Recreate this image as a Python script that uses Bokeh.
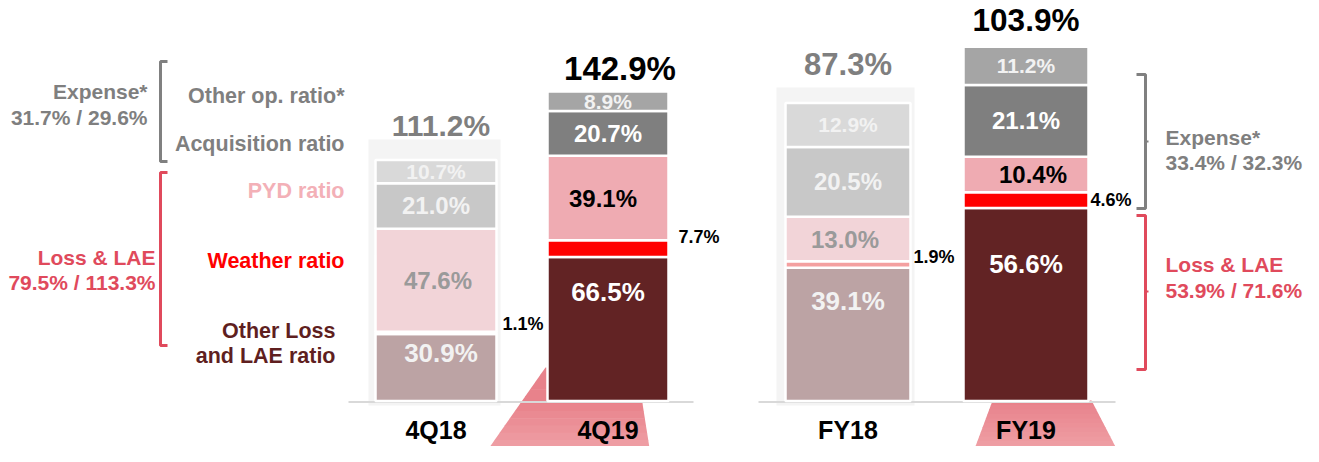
from bokeh.plotting import figure
from bokeh.models import Range1d, ColumnDataSource
from bokeh.core.properties import value
from bokeh.embed import file_html
from bokeh.resources import INLINE

# ---------------- data ----------------
periods = ["4Q18", "4Q19", "FY18", "FY19"]
other_loss = [30.9, 66.5, 39.1, 56.6]
weather = [1.1, 7.7, 1.9, 4.6]
pyd = [47.6, 39.1, 13.0, 10.4]
acquisition = [21.0, 20.7, 20.5, 21.1]
other_op = [10.7, 8.9, 12.9, 11.2]
totals = ["111.2%", "142.9%", "87.3%", "103.9%"]
expense_q = "31.7% / 29.6%"
loss_q = "79.5% / 113.3%"
expense_fy = "33.4% / 32.3%"
loss_fy = "53.9% / 71.6%"

# ---------------- layout / style ----------------
W, H = 1303, 446
OX, OY = 7, 8            # page offset of the drawing
FONT = value("Liberation Sans")
BASE_PX = 408.5          # layout y of the zero line
Q_SCALE = 2.165          # px per % for quarters
FY_SCALE = 3.41          # px per % for full years

bar_x = [442.5, 614.5, 854.5, 1032.5]
bar_w = [121, 121, 125, 125]
rng = [None, None, "fy", "fy"]

faded = ["#bca3a4", "#f4a0a0", "#f2d4d8", "#c8c8c8", "#d9d9d9"]
strong = ["#622324", "#ff0000", "#efabb2", "#7f7f7f", "#a5a5a5"]
palettes = [faded, strong, faded, strong]
faded_txt = ["#f2f2f2", None, "#9a9a9a", "#f2f2f2", "#f2f2f2"]
strong_txt = ["#ffffff", None, "#000000", "#ffffff", "#f2f2f2"]
txt_palettes = [faded_txt, strong_txt, faded_txt, strong_txt]
seg_font = ["26px", None, "24px", "24px", "21px"]

bottom_label_shift = [-15, -37, -33, -40]
bottom_label_dx = [5, 0, 0, 0]
pyd_label_dx = [2, -5, -3, 7]
side_dx = [6, 10, 3, 2]
side_dy = [-9, -12, -7, 0]
total_dx = [5, 12, 0, 0]
total_dy = [-35, -23, -38, -27]
total_font = ["30px", "33px", "31px", "31.5px"]

GRAY = "#7f7f7f"
RED = "#e04a5c"

p = figure(width=W, height=H, output_backend="svg", toolbar_location=None,
           x_range=Range1d(OX, OX + W),
           y_range=Range1d(-(OY + H - BASE_PX) / Q_SCALE, (BASE_PX - OY) / Q_SCALE),
           x_axis_location=None, y_axis_location=None, min_border=0)
p.extra_y_ranges = {
    "fy": Range1d(-(OY + H - BASE_PX) / FY_SCALE, (BASE_PX - OY) / FY_SCALE),
    "px": Range1d(OY + H, OY),
}
p.xgrid.visible = False
p.ygrid.visible = False
p.outline_line_color = None
p.background_fill_color = "white"
p.border_fill_color = "white"

# background panels behind the prior-year bars
p.quad(left=[375, 783], right=[507, 921], top=[147, 95], bottom=[413, 413],
       fill_color="#f4f4f4", line_color=None, y_range_name="px")


# pink gradient trapezoids under the current-year bars
def hexmix(c0, c1, t):
    a = [int(c0[i:i + 2], 16) for i in (1, 3, 5)]
    b = [int(c1[i:i + 2], 16) for i in (1, 3, 5)]
    return "#" + "".join(f"{round(a[k] + (b[k] - a[k]) * t):02x}" for k in range(3))


def trapezoid(left_edge, right_edge, y0, y1, yc0, n=12):
    (lx0, ly0), (lx1, ly1) = left_edge
    (rx0, ry0), (rx1, ry1) = right_edge

    def at(x0, y0_, x1, y1_, y):
        return x0 + (x1 - x0) * (y - y0_) / (y1_ - y0_)

    xs, ys, cs = [], [], []
    for k in range(n):
        ya = y0 + (y1 - y0) * k / n
        yb = y0 + (y1 - y0) * (k + 1) / n + 0.6
        xs.append([at(lx0, ly0, lx1, ly1, ya), at(rx0, ry0, rx1, ry1, ya),
                   at(rx0, ry0, rx1, ry1, yb), at(lx0, ly0, lx1, ly1, yb)])
        ys.append([ya, ya, yb, yb])
        t = max(0.0, ((ya + yb) / 2 - yc0) / (y1 - yc0))
        cs.append(hexmix("#e8828b", "#f0a4a9", t))
    p.patches(xs, ys, fill_color=cs, line_color=None, y_range_name="px")


trapezoid(((552, 375), (491, 462)), ((649, 411), (657, 462)), 375, 462, 411)
trapezoid(((998, 411), (979, 462)), ((1098, 408), (1126, 462)), 408, 462, 410)

# zero lines
p.multi_line([[355, 700], [765, 1122]], [[409.5, 409.5], [409.5, 409.5]],
             line_color="#d9d9d9", line_width=2, y_range_name="px")

segs = [other_loss, weather, pyd, acquisition, other_op]

for i in range(4):
    bottoms, tops = [], []
    b = 0.0
    for s in segs:
        bottoms.append(b)
        tops.append(b + s[i])
        b += s[i]
    kw = {"y_range_name": rng[i]} if rng[i] else {}
    src = ColumnDataSource(dict(x=[bar_x[i]] * 5, w=[bar_w[i]] * 5,
                                bottom=bottoms, top=tops, color=palettes[i]))
    p.vbar(x="x", width="w", bottom="bottom", top="top", fill_color="color",
           line_color="white", line_width=2.5, source=src, **kw)

    # inside labels
    for j in [0, 2, 3, 4]:
        v = segs[j][i]
        if j == 0:
            y = tops[0] - v / 2
            yo = bottom_label_shift[i]
            xo = bottom_label_dx[i]
        else:
            y = (bottoms[j] + tops[j]) / 2
            yo = 0
            xo = pyd_label_dx[i] if j == 2 else 0
        p.text(x=[bar_x[i]], y=[y], text=[f"{v:.1f}%"], x_offset=xo, y_offset=yo,
               text_font=FONT, text_font_style="bold", text_font_size=seg_font[j],
               text_color=txt_palettes[i][j], text_align="center",
               text_baseline="middle", **kw)

    # weather label outside the bar
    p.text(x=[bar_x[i] + bar_w[i] / 2 + side_dx[i]], y=[(bottoms[1] + tops[1]) / 2],
           text=[f"{weather[i]:.1f}%"], y_offset=side_dy[i],
           text_font=FONT, text_font_style="bold", text_font_size="18px",
           text_color="black", text_align="left", text_baseline="middle", **kw)

    # total
    p.text(x=[bar_x[i]], y=[tops[4]], text=[totals[i]], x_offset=total_dx[i],
           y_offset=total_dy[i], text_font=FONT, text_font_style="bold",
           text_font_size=total_font[i], text_color=GRAY if i in (0, 2) else "black",
           text_align="center", text_baseline="middle", **kw)

# category labels
p.text(x=bar_x, y=[437] * 4, text=periods, text_font=FONT, text_font_style="bold",
       text_font_size="25px", text_color="black", text_align="center",
       text_baseline="middle", y_range_name="px")

# left legend labels
leg = ColumnDataSource(dict(
    x=[351, 351, 351, 351, 342, 342],
    y=[103, 151, 198, 268, 338, 363],
    t=["Other op. ratio*", "Acquisition ratio", "PYD ratio", "Weather ratio",
       "Other Loss", "and LAE ratio"],
    c=[GRAY, GRAY, "#f3b0b7", "#ff0000", "#5f1f1f", "#5f1f1f"]))
p.text(x="x", y="y", text="t", text_color="c", source=leg, text_font=FONT,
       text_font_style="bold", text_font_size="21.5px", text_align="right",
       text_baseline="middle", y_range_name="px")

grp = ColumnDataSource(dict(
    x=[154, 154, 162, 162],
    y=[99, 125, 265, 290],
    t=["Expense*", expense_q, "Loss & LAE", loss_q],
    c=[GRAY, GRAY, RED, RED]))
p.text(x="x", y="y", text="t", text_color="c", source=grp, text_font=FONT,
       text_font_style="bold", text_font_size="21px", text_align="right",
       text_baseline="middle", y_range_name="px")

grp2 = ColumnDataSource(dict(
    x=[1172, 1172, 1172, 1172],
    y=[145, 170, 272, 298],
    t=["Expense*", expense_fy, "Loss & LAE", loss_fy],
    c=[GRAY, GRAY, RED, RED]))
p.text(x="x", y="y", text="t", text_color="c", source=grp2, text_font=FONT,
       text_font_style="bold", text_font_size="21px", text_align="left",
       text_baseline="middle", y_range_name="px")

# brackets
p.line([174, 167, 167, 174], [69, 69, 169, 169], line_color="#808080",
       line_width=3, y_range_name="px")
p.line([174, 167, 167, 174], [180, 180, 353, 353], line_color=RED,
       line_width=3, y_range_name="px")
p.line([1143, 1152, 1152, 1143], [82, 82, 216, 216], line_color="#808080",
       line_width=3, y_range_name="px")
p.line([1152, 1155], [149, 149], line_color="#808080", line_width=2, y_range_name="px")
p.line([1143, 1152, 1152, 1143], [223, 223, 377, 377], line_color=RED,
       line_width=3, y_range_name="px")
p.line([1152, 1155], [299, 299], line_color=RED, line_width=2, y_range_name="px")

open("out.html", "w").write(file_html(p, INLINE))
